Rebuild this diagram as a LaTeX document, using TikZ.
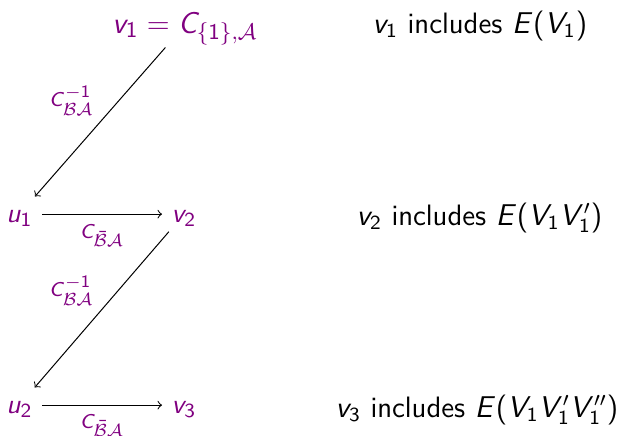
\documentclass[tikz,border=0pt]{standalone}
\DeclareSymbolFont{operators}{OT1}{cmss}{m}{n}
\DeclareSymbolFont{sfletters}{OT1}{cmss}{m}{sl}
\DeclareMathSymbol{u}{\mathalpha}{sfletters}{`u}
\DeclareMathSymbol{v}{\mathalpha}{sfletters}{`v}
\DeclareMathSymbol{C}{\mathalpha}{sfletters}{`C}
\DeclareMathSymbol{E}{\mathalpha}{sfletters}{`E}
\DeclareMathSymbol{V}{\mathalpha}{sfletters}{`V}
\DeclareMathSizes{8.5}{8.5}{7}{5}
\definecolor{cdpurple}{RGB}{128,0,128}
\begin{document}
\begin{tikzpicture}[x=0.4pt,y=-0.4pt,
  obj/.style={text=cdpurple, font=\fontsize{11.3}{13}\selectfont, inner sep=3.7pt,
    text height=6.3pt, text depth=0pt, anchor=base},
  topobj/.style={text=cdpurple, font=\fontsize{12.5}{15}\selectfont, inner sep=3.6pt,
    text depth=2pt, anchor=base},
  lbl/.style={text=cdpurple, font=\fontsize{8.5}{10}\selectfont, inner sep=0pt, anchor=base},
  note/.style={font=\fontsize{11.8}{14}\selectfont\sffamily, inner sep=0pt, anchor=base},
  arr/.style={->, line width=0.4pt}]
\useasboundingbox (0,0) rectangle (622,435);
% left column
\node[topobj] (v1) at (185,33) {$v_1 = C_{\{1\},\mathcal{A}}$};
\node[obj] (u1) at (19.5,222) {$u_1$};
\node[obj] (v2) at (184,222) {$v_2$};
\node[obj] (u2) at (19.5,413) {$u_2$};
\node[obj] (v3) at (184,413) {$v_3$};
% arrows
\draw[arr] (v1) -- (u1);
\draw[arr] (u1) -- (v2);
\draw[arr] (v2) -- (u2);
\draw[arr] (u2) -- (v3);
% labels
\node[lbl] (l1) at (71.5,106) {$C^{-1}_{\mathcal{B}\mathcal{A}}$};
\node[lbl] (l2) at (102,238.5) {$C_{\bar{\mathcal{B}}\mathcal{A}}$};
\node[lbl] (l3) at (71.5,296) {$C^{-1}_{\mathcal{B}\mathcal{A}}$};
\node[lbl] (l4) at (102,428) {$C_{\bar{\mathcal{B}}\mathcal{A}}$};
% right column
\node[note] (t1) at (480,33) {$v_1$ includes $E(V_1)$};
\node[note] (t2) at (479.5,225) {$v_2$ includes $E(V_1V_1')$};
\node[note] (t3) at (477,417) {$v_3$ includes $E(V_1V_1'V_1'')$};
\end{tikzpicture}
\end{document}
